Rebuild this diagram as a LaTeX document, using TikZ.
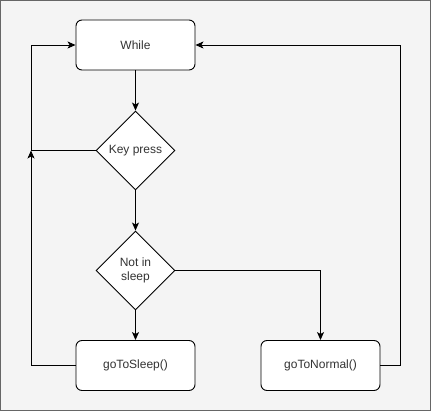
\documentclass[tikz,border=0pt]{standalone}
\usepackage{fontspec}
\setmainfont{Liberation Sans}
\usetikzlibrary{shapes.geometric,arrows.meta}
\definecolor{bg}{HTML}{F4F4F4}
\definecolor{frame}{HTML}{666666}
\definecolor{txt}{HTML}{333333}
\begin{document}
\begin{tikzpicture}[x=1pt,y=-1pt,
  every node/.style={font=\fontsize{12}{13.5}\selectfont, text=txt},
  procbox/.style={draw=black, fill=white, rounded corners=6pt, minimum width=119pt, minimum height=50pt, line width=0.9pt, inner sep=0pt},
  decbox/.style={draw=black, fill=white, diamond, minimum width=79pt, minimum height=79pt, line width=0.9pt, inner sep=0pt, align=center, aspect=1},
  conn/.style={draw=black, line width=0.9pt},
  arr/.style={conn, -{Stealth[length=8pt,width=7pt,inset=2pt]}}]
\useasboundingbox (0,0) rectangle (431,411);
\draw[frame, fill=bg, line width=1.2pt] (0.6,0.6) rectangle (430.4,410.4);
\node[procbox] (while) at (135.5,45) {While};
\node[decbox] (key) at (135.5,150.5) {Key press};
\node[decbox] (sleep) at (135.5,270.5) {Not in\\sleep};
\node[procbox] (gts) at (135.5,365.5) {goToSleep()};
\node[procbox] (gtn) at (320.5,365.5) {goToNormal()};
\coordinate (lt) at (31,45);
\coordinate (lj) at (31,150.5);
\coordinate (lb) at (31,365.5);
\coordinate (rt) at (400.5,45);
\coordinate (rb) at (400.5,365.5);
\coordinate (nm) at (320.5,270.5);
\draw[arr] (while) -- (key);
\draw[arr] (key) -- (sleep);
\draw[arr] (sleep) -- (gts);
\draw[arr] (key.west) -- (lj) -- (lt) -- (while.west);
\draw[arr] (gts.west) -- (lb) -- (lj);
\draw[arr] (sleep.east) -- (nm) -- (gtn.north);
\draw[arr] (gtn.east) -- (rb) -- (rt) -- (while.east);
\end{tikzpicture}
\end{document}
